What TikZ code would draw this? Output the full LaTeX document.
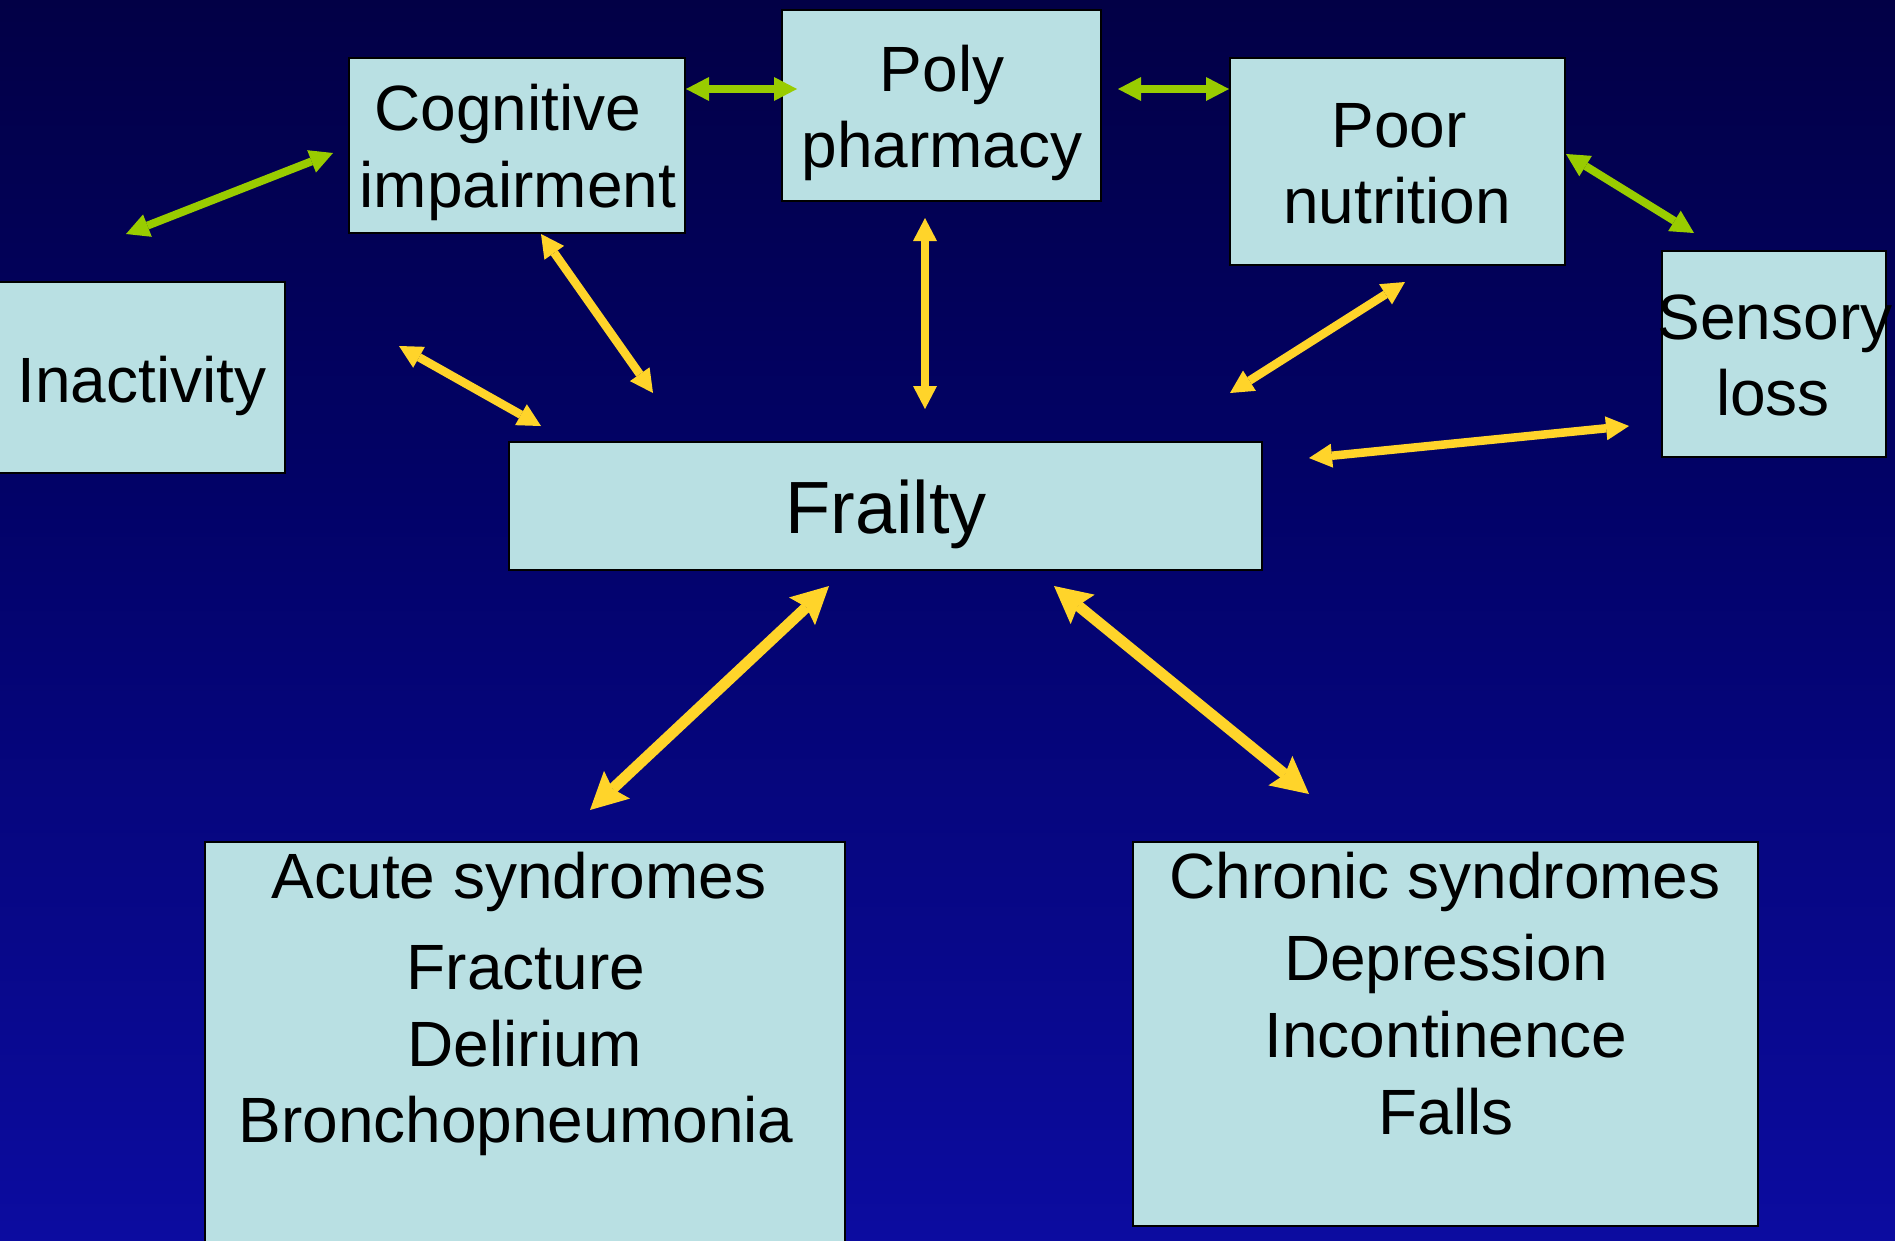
\documentclass[tikz,border=0pt]{standalone}
\usepackage{fontspec}
\setmainfont{Liberation Sans}
\usetikzlibrary{arrows.meta}
\definecolor{bgtop}{RGB}{2,0,70}
\definecolor{bgmid}{RGB}{2,2,104}
\definecolor{bgbot}{RGB}{12,12,160}
\definecolor{boxfill}{RGB}{185,224,227}
\definecolor{agreen}{RGB}{153,204,0}
\definecolor{ayellow}{RGB}{255,212,42}
\tikzset{
  box/.style={draw=black, line width=2pt, fill=boxfill, anchor=north west, inner sep=0pt, outer sep=0pt},
  txt/.style={anchor=base, inner sep=0pt, text=black, font=\fontsize{64}{77}\selectfont},
  bigtxt/.style={anchor=base, inner sep=0pt, text=black, font=\fontsize{74}{88}\selectfont},
  garrow/.style={draw=agreen, line width=8pt, {Triangle[length=23pt,width=24pt,line width=0pt]}-{Triangle[length=23pt,width=24pt,line width=0pt]}},
  yarrow/.style={draw=ayellow, line width=8.5pt, {Triangle[length=23pt,width=24pt,line width=0pt]}-{Triangle[length=23pt,width=24pt,line width=0pt]}},
  ybig/.style={draw=ayellow, line width=11pt, {Stealth[length=37pt,width=38pt,inset=6pt,line width=0pt]}-{Stealth[length=37pt,width=38pt,inset=6pt,line width=0pt]}}
}
\begin{document}
\begin{tikzpicture}[x=1pt,y=-1pt]
\useasboundingbox (0,0) rectangle (1895,1240);
\clip (0,0) rectangle (1895,1240);
\shade[top color=bgtop, bottom color=bgmid] (0,0) rectangle (1895,500);
\shade[top color=bgmid, bottom color=bgbot] (0,499) rectangle (1895,1240);

% boxes
\node[box, minimum width=336pt, minimum height=175pt] (cog) at (349,58) {};
\node[box, minimum width=319pt, minimum height=191pt] (poly) at (782,10) {};
\node[box, minimum width=335pt, minimum height=207pt] (poor) at (1230,58) {};
\node[box, minimum width=224pt, minimum height=206pt] (sens) at (1662,251) {};
\node[box, minimum width=295pt, minimum height=191pt] (inact) at (-10,282) {};
\node[box, minimum width=753pt, minimum height=128pt] (frail) at (509,442) {};
\node[box, minimum width=640pt, minimum height=430pt] (acute) at (205,842) {};
\node[box, minimum width=625pt, minimum height=384pt] (chron) at (1133,842) {};

% texts
\node[txt] (cogA) at (508,130) {Cognitive};
\node[txt] (cogB) at (518,207) {impairment};
\node[txt] (polyA) at (942,91) {Poly};
\node[txt] (polyB) at (942,167) {pharmacy};
\node[txt] (poorA) at (1399,147) {Poor};
\node[txt] (poorB) at (1397,223) {nutrition};
\node[txt] (sensA) at (1775,339) {Sensory};
\node[txt] (sensB) at (1773,415) {loss};
\node[txt] (inactA) at (142,402) {Inactivity};
\node[bigtxt] (frailA) at (886,533) {Frailty};
\node[txt] (acuteA) at (519,898) {Acute syndromes};
\node[txt] (acuteB) at (526,989) {Fracture};
\node[txt] (acuteC) at (525,1066) {Delirium};
\node[txt] (acuteD) at (516,1142) {Bronchopneumonia};
\node[txt] (chronA) at (1445,898) {Chronic syndromes};
\node[txt] (chronB) at (1446,980) {Depression};
\node[txt] (chronC) at (1446,1057) {Incontinence};
\node[txt] (chronD) at (1446,1134) {Falls};

% connector end points
\coordinate (ic1) at (126,234);   \coordinate (ic2) at (333,153);
\coordinate (cp1) at (686,89);    \coordinate (cp2) at (797,89);
\coordinate (pp1) at (1118,89);   \coordinate (pp2) at (1229,89);
\coordinate (ps1) at (1566,154);  \coordinate (ps2) at (1694,233);
\coordinate (cf1) at (541,234);   \coordinate (cf2) at (653,393);
\coordinate (if1) at (399,346);   \coordinate (if2) at (541,426);
\coordinate (yf1) at (925,218);   \coordinate (yf2) at (925,409);
\coordinate (nf1) at (1405,282);  \coordinate (nf2) at (1230,393);
\coordinate (sf1) at (1629,426);  \coordinate (sf2) at (1309,458);
\coordinate (fa1) at (829,586);   \coordinate (fa2) at (590,810);
\coordinate (fc1) at (1054,586);  \coordinate (fc2) at (1309,794);

% green connectors
\draw[garrow] (ic1) -- (ic2);
\draw[garrow] (cp1) -- (cp2);
\draw[garrow] (pp1) -- (pp2);
\draw[garrow] (ps1) -- (ps2);
% yellow connectors
\draw[yarrow] (cf1) -- (cf2);
\draw[yarrow] (if1) -- (if2);
\draw[yarrow] (yf1) -- (yf2);
\draw[yarrow] (nf1) -- (nf2);
\draw[yarrow] (sf1) -- (sf2);
\draw[ybig] (fa1) -- (fa2);
\draw[ybig] (fc1) -- (fc2);
\end{tikzpicture}
\end{document}
